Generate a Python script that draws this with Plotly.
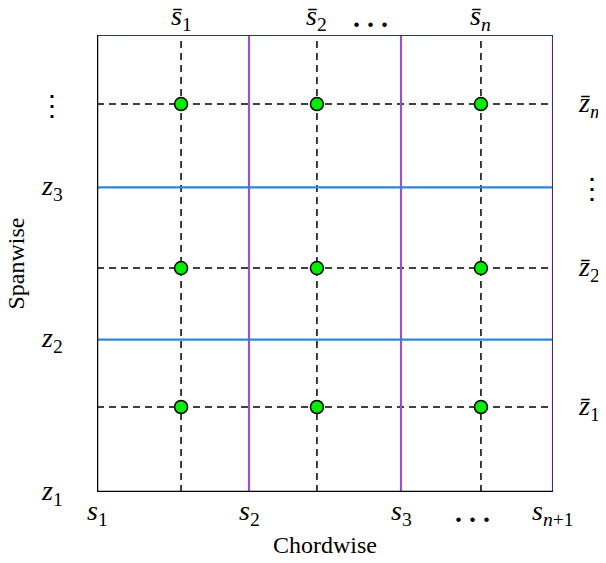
import plotly.graph_objects as go

# Panel edges (chordwise s, spanwise z)
s_edges = [0.0, 1.0, 2.0, 3.0]
z_edges = [0.0, 1.0, 2.0, 3.0]
# Collocation points (dashed lines and dots)
s_bar = [0.553, 1.447, 2.526]
z_bar = [0.558, 1.47, 2.547]

bottom_labels = ["<i>s</i><sub>1</sub>", "<i>s</i><sub>2</sub>", "<i>s</i><sub>3</sub>", "<b>. . .</b>", "<i>s</i><sub><i>n</i>+1</sub>"]
bottom_pos = [0.0, 1.0, 2.0, 2.47, 3.0]
top_labels = ["<i>s\u0304</i><sub>1</sub>", "<i>s\u0304</i><sub>2</sub>", "<b>. . .</b>", "<i>s\u0304</i><sub><i>n</i></sub>"]
top_pos = [0.553, 1.447, 1.80, 2.526]
left_labels = ["<i>z</i><sub>1</sub>", "<i>z</i><sub>2</sub>", "<i>z</i><sub>3</sub>", "\u22ee", "<i>z</i><sub><i>m</i>+1</sub>"]
left_pos = [0.0, 1.0, 2.0, 2.54, 3.03]
right_labels = ["<i>z\u0304</i><sub>1</sub>", "<i>z\u0304</i><sub>2</sub>", "\u22ee", "<i>z\u0304</i><sub><i>m</i></sub>"]
right_pos = [0.558, 1.47, 1.99, 2.547]

BLUE = "#2f86d8"
PURPLE = "#9a4fd0"
FONT = "Times New Roman, Liberation Serif, serif"
LBL = 28

fig = go.Figure()

# dashed lines
for sb in s_bar:
    fig.add_trace(go.Scatter(x=[sb, sb], y=[z_edges[0], z_edges[-1]], mode="lines",
                             line=dict(color="black", width=1.5, dash="7px,5px"), hoverinfo="skip"))
for zb in z_bar:
    fig.add_trace(go.Scatter(x=[s_edges[0], s_edges[-1]], y=[zb, zb], mode="lines",
                             line=dict(color="black", width=1.5, dash="7px,5px"), hoverinfo="skip"))
# panel edges
for se in s_edges[1:]:
    fig.add_trace(go.Scatter(x=[se, se], y=[z_edges[0], z_edges[-1]], mode="lines",
                             line=dict(color=PURPLE, width=2.2), hoverinfo="skip"))
for ze in z_edges[1:]:
    fig.add_trace(go.Scatter(x=[s_edges[0], s_edges[-1]], y=[ze, ze], mode="lines",
                             line=dict(color=BLUE, width=2.2), hoverinfo="skip"))
# box outline
fig.add_trace(go.Scatter(x=[s_edges[0], s_edges[0], s_edges[-1]], y=[z_edges[-1], z_edges[0], z_edges[0]],
                         mode="lines", line=dict(color="black", width=2.5), hoverinfo="skip"))
fig.add_trace(go.Scatter(x=[s_edges[0], s_edges[-1], s_edges[-1]], y=[z_edges[-1], z_edges[-1], z_edges[0]],
                         mode="lines", line=dict(color="rgba(10,10,40,0.75)", width=1.5), hoverinfo="skip"))

# collocation dots
xs = [sb for zb in z_bar for sb in s_bar]
ys = [zb for zb in z_bar for sb in s_bar]
fig.add_trace(go.Scatter(x=xs, y=ys, mode="markers",
                         marker=dict(size=13, color="#00ee00", line=dict(color="black", width=1.5)),
                         hoverinfo="skip"))

def f(size):
    return dict(size=size, family=FONT, color="black")

ann = []
for t, p in zip(bottom_labels, bottom_pos):
    ann.append(dict(x=p, y=0, xref="x", yref="paper", text=t, showarrow=False,
                    xanchor="center", yanchor="middle", yshift=-20, font=f(LBL)))
for t, p in zip(top_labels, top_pos):
    ann.append(dict(x=p, y=1, xref="x", yref="paper", text=t, showarrow=False,
                    xanchor="center", yanchor="middle", yshift=18, font=f(LBL)))
for t, p in zip(left_labels, left_pos):
    ann.append(dict(x=0, y=p, xref="paper", yref="y", text=t, showarrow=False,
                    xanchor="center", yanchor="middle", xshift=-45, font=f(LBL)))
for t, p in zip(right_labels, right_pos):
    ann.append(dict(x=1, y=p, xref="paper", yref="y", text=t, showarrow=False,
                    xanchor="left", yanchor="middle", xshift=23, font=f(LBL)))
ann.append(dict(x=0.5, y=0, xref="paper", yref="paper", text="Chordwise", showarrow=False,
                xanchor="center", yanchor="middle", yshift=-53, font=f(24)))
ann.append(dict(x=0, y=0.5, xref="paper", yref="paper", text="Spanwise", showarrow=False,
                xanchor="center", yanchor="middle", xshift=-82, textangle=-90, font=f(24)))

# page body has an 8px default margin, so shrink figure and margins accordingly
fig.update_layout(
    width=598, height=555,
    margin=dict(l=89, r=53, t=27, b=71),
    plot_bgcolor="white", paper_bgcolor="white",
    showlegend=False,
    annotations=ann,
    font=dict(family=FONT),
    xaxis=dict(range=[s_edges[0], s_edges[-1]], showgrid=False, zeroline=False, showticklabels=False, ticks=""),
    yaxis=dict(range=[z_edges[0], z_edges[-1]], showgrid=False, zeroline=False, showticklabels=False, ticks=""),
)
fig.write_html("out.html")
